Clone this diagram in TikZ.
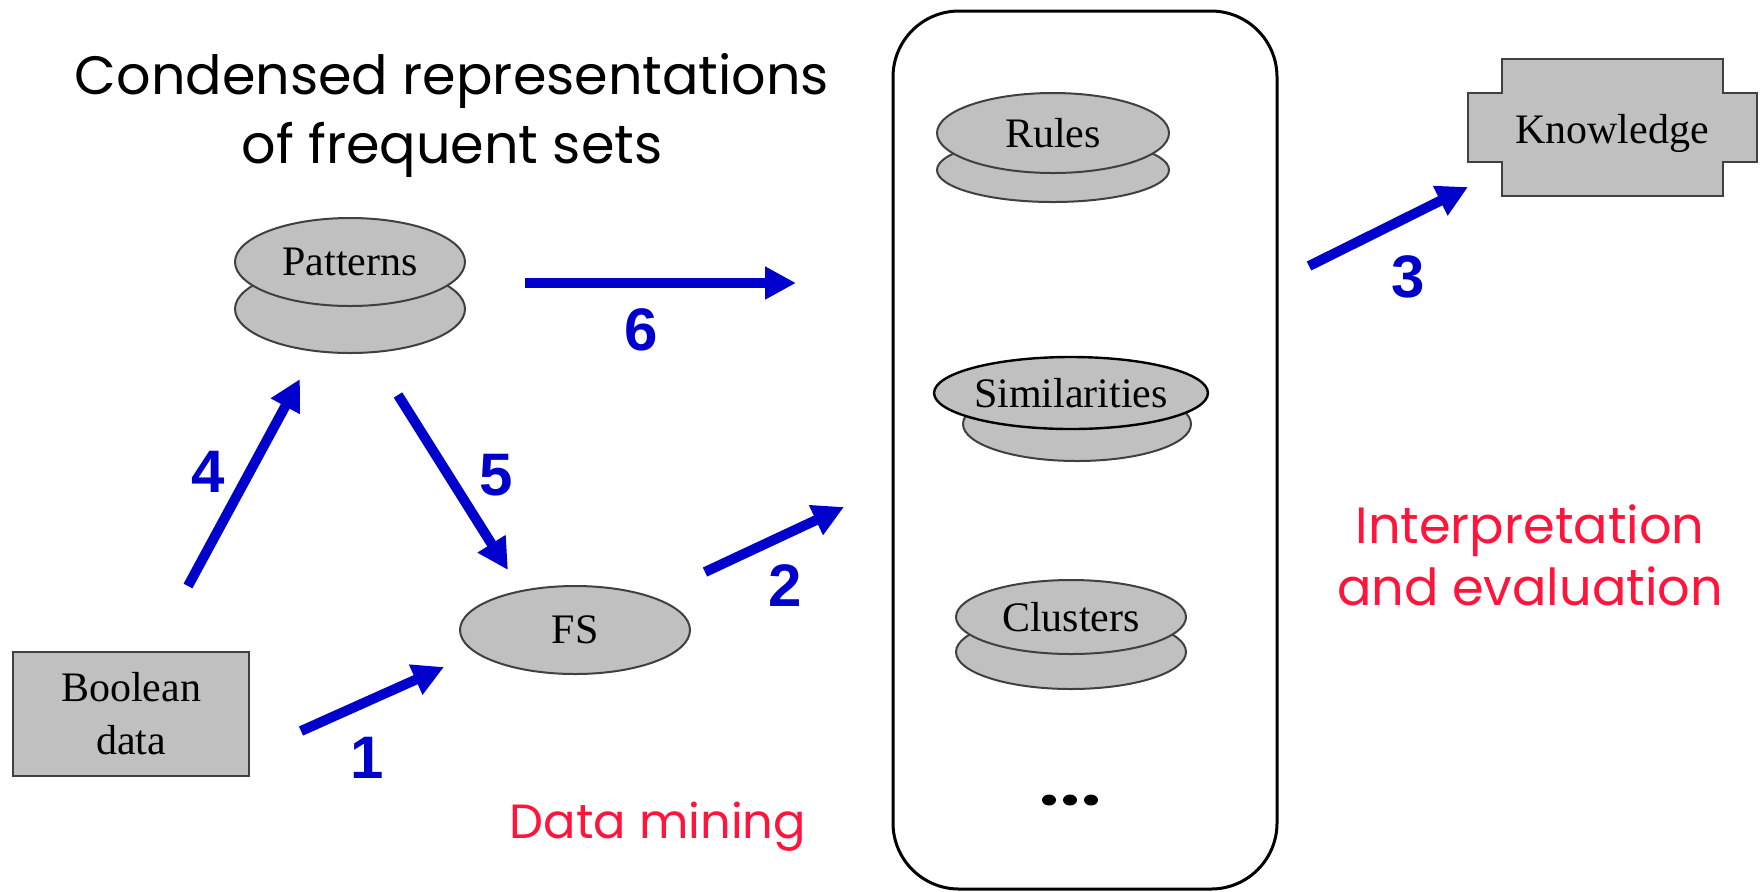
\documentclass[tikz,border=0pt]{standalone}
\usepackage{fontspec}
\setmainfont{Liberation Serif}
\newfontfamily\numfont{Liberation Sans}
\newfontfamily\handfont{Poppins}
\usetikzlibrary{arrows.meta,shapes.geometric}
\definecolor{flowblue}{RGB}{0,0,204}
\definecolor{notered}{RGB}{255,20,60}
\definecolor{diskgray}{RGB}{192,192,192}
\definecolor{edgegray}{RGB}{64,64,64}
\begin{document}
\begin{tikzpicture}[x=0.5pt,y=-0.5pt,
  disk/.style={ellipse, draw=edgegray, fill=diskgray, line width=1pt, inner sep=0pt,
    minimum width=115pt, minimum height=42pt, font=\fontsize{21}{25}\selectfont},
  box/.style={draw=edgegray, fill=diskgray, line width=1pt},
  flow/.style={draw=flowblue, line width=5pt, -{Triangle[length=15.5pt,width=15.5pt]}},
  num/.style={text=flowblue, font=\numfont\bfseries\fontsize{30}{36}\selectfont},
  hand/.style={font=\handfont\fontsize{24}{31}\selectfont, align=center},
]
\useasboundingbox (0,0) rectangle (1760,891);

% title
\node[hand, font=\handfont\fontsize{27}{34.5}\selectfont] (title) at (452,115)
  {Condensed representations\\of frequent sets};

% input data
\node[box, minimum width=118pt, minimum height=62pt, align=center,
  font=\fontsize{21}{26.5}\selectfont] (bool) at (131,714) {Boolean\\data};

% pattern stack
\node[disk, minimum height=44pt] (patb) at (350,309) {};
\node[disk, minimum height=44pt] (pat) at (350,262) {\raisebox{-1pt}{Patterns}};

% frequent sets
\node[disk, minimum height=44pt] (fs) at (575,630) {FS};

% container of mined models
\draw[line width=1.5pt, rounded corners=33pt] (893,11) rectangle (1277,889);
\node[disk, minimum width=116pt, minimum height=32pt] (rulesb) at (1053,170) {};
\node[disk, minimum width=116pt, minimum height=40pt] (rules) at (1053,133) {\raisebox{-1pt}{Rules}};
\node[disk, minimum width=114pt, minimum height=37pt] (simb) at (1077,424) {};
\node[disk, draw=black, line width=1.2pt, minimum height=36pt] (sim) at (1071,393) {Similarities};
\node[disk, minimum height=37pt] (club) at (1071,652) {};
\node[disk, minimum height=37pt] (clu) at (1071,617) {Clusters};
\foreach \dx in {1049,1070,1091}
  \fill (\dx,800) ellipse [x radius=7, y radius=5.5];

% knowledge
\draw[box] (1502,59) -- (1723,59) -- (1723,93) -- (1757,93) -- (1757,162)
  -- (1723,162) -- (1723,196) -- (1502,196) -- (1502,162) -- (1468,162)
  -- (1468,93) -- (1502,93) -- cycle;
\node[font=\fontsize{21}{25}\selectfont] (know) at (1612,133) {Knowledge};

% arrow end points
\coordinate (a1s) at (301,731); \coordinate (a1e) at (444,667);
\coordinate (a2s) at (705,572); \coordinate (a2e) at (844,507);
\coordinate (a3s) at (1309,266); \coordinate (a3e) at (1468,187);
\coordinate (a4s) at (188,586); \coordinate (a4e) at (300,379);
\coordinate (a5s) at (398,395); \coordinate (a5e) at (508,570);
\coordinate (a6s) at (525,283); \coordinate (a6e) at (796,283);

\draw[flow] (a1s) -- (a1e);
\draw[flow] (a2s) -- (a2e);
\draw[flow] (a3s) -- (a3e);
\draw[flow] (a4s) -- (a4e);
\draw[flow] (a5s) -- (a5e);
\draw[flow] (a6s) -- (a6e);

\node[num] (n1) at (367,758) {1};
\node[num] (n2) at (785,586) {2};
\node[num] (n3) at (1408,277) {3};
\node[num] (n4) at (208,472) {4};
\node[num] (n5) at (496,475) {5};
\node[num] (n6) at (641,330) {6};

% phase labels
\node[hand, text=notered, font=\handfont\fontsize{25.5}{31}\selectfont] (interp) at (1530,555)
  {Interpretation\\and evaluation};
\node[hand, text=notered] (dm) at (658,827) {Data mining};
\end{tikzpicture}
\end{document}
